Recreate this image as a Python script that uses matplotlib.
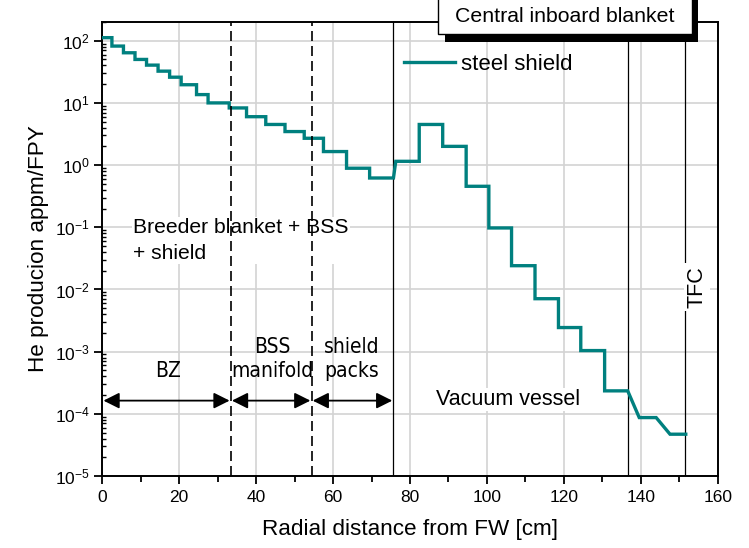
import matplotlib
matplotlib.use("Agg")
import matplotlib.pyplot as plt
from matplotlib import font_manager
from matplotlib.patches import Rectangle
from matplotlib.ticker import FixedLocator, NullFormatter, LogFormatterSciNotation

plt.rcParams['font.family'] = ['Liberation Sans', 'DejaVu Sans']
plt.rcParams['mathtext.fontset'] = 'custom'
plt.rcParams['mathtext.rm'] = 'Liberation Sans'
plt.rcParams['mathtext.it'] = 'Liberation Sans:italic'

# He production profile (polyline vertices)
x_pts = [0, 2.5, 2.5, 5.5, 5.5, 8.5, 8.5, 11.5, 11.5, 14.5, 14.5, 17.5, 17.5,
         20.5, 20.5, 24.5, 24.5, 27.5, 27.5, 33.0, 33.0, 37.5, 37.5, 42.5, 42.5,
         47.5, 47.5, 52.5, 52.5, 57.5, 57.5, 63.5, 63.5, 69.5, 69.5, 75.7,
         76.3, 82.4, 82.4, 88.5, 88.5, 94.6, 94.6, 100.5, 100.5, 106.4, 106.4,
         112.5, 112.5, 118.6, 118.6, 124.4, 124.4, 130.6, 130.6, 136.6,
         139.6, 144.0, 147.6, 151.7]
y_pts = [112, 112, 82, 82, 64, 64, 50, 50, 40.5, 40.5, 32.4, 32.4, 25.9,
         25.9, 19.6, 19.6, 13.6, 13.6, 10.0, 10.0, 8.3, 8.3, 6.0, 6.0, 4.5,
         4.5, 3.46, 3.46, 2.7, 2.7, 1.65, 1.65, 0.89, 0.89, 0.62, 0.62,
         1.15, 1.15, 4.5, 4.5, 2.0, 2.0, 0.456, 0.456, 0.0975, 0.0975, 0.0241,
         0.0241, 0.0071, 0.0071, 0.00244, 0.00244, 0.00104, 0.00104, 0.000234, 0.000234,
         8.7e-5, 8.7e-5, 4.7e-5, 4.7e-5]
series_label = "steel shield"

dashed_x = [33.4, 54.4]
solid_x = [75.7, 136.8, 151.5]
arrow_y = 1.63e-4
arrow_spans = [(0.3, 33.1), (33.7, 54.1), (54.7, 75.4)]

x_ticks = [0, 20, 40, 60, 80, 100, 120, 140, 160]
x_minor = [10, 30, 50, 70, 90, 110, 130, 150]
y_ticks = [1e-5, 1e-4, 1e-3, 1e-2, 1e-1, 1e0, 1e1, 1e2]
y_minor = [m * d for d in [1e-5, 1e-4, 1e-3, 1e-2, 1e-1, 1e0, 1e1] for m in range(2, 10)] + [200]

# pick a condensed sans font if one is installed
narrow_family, narrow_stretch, narrow_size = 'Liberation Sans', 'normal', 14
names = {f.name for f in font_manager.fontManager.ttflist}
if 'Liberation Sans Narrow' in names:
    narrow_family, narrow_stretch, narrow_size = 'Liberation Sans Narrow', 'normal', 17
else:
    for f in font_manager.fontManager.ttflist:
        st = str(f.stretch).lower()
        if f.name in ('Noto Sans', 'DejaVu Sans', 'Open Sans', 'Roboto', 'Inter', 'Lato') and \
                ('condensed' in st or st in ('75', '62.5', '87.5')) and f.style == 'normal' \
                and f.weight in (400, 'normal', 'regular'):
            narrow_family, narrow_stretch, narrow_size = f.name, f.stretch, 15
            break

fig = plt.figure(figsize=(7.49, 5.48), dpi=100)
ax = fig.add_axes([102.3 / 749, 72 / 548, 615.4 / 749, 454 / 548])

ax.set_yscale('log')
ax.set_xlim(0, 160)
ax.set_ylim(1e-5, 200)

ax.grid(True, which='major', color='#d3d3d3', linewidth=1.2, zorder=0)
ax.set_axisbelow(True)

line, = ax.plot(x_pts, y_pts, color='#00807f', linewidth=2.4, zorder=4,
                solid_joinstyle='miter', label=series_label)

for xv in dashed_x:
    ax.axvline(xv, color='black', linewidth=1.2, linestyle=(0, (6, 3)), zorder=5)
for xv in solid_x:
    ax.axvline(xv, color='black', linewidth=0.9, zorder=3)

for x0, x1 in arrow_spans:
    ax.annotate('', xy=(x1, arrow_y), xytext=(x0, arrow_y),
                arrowprops=dict(arrowstyle='<|-|>', color='black', lw=1.3,
                                mutation_scale=24, shrinkA=0, shrinkB=0),
                zorder=6)

nkw = dict(family=[narrow_family, 'Liberation Sans', 'DejaVu Sans'], stretch=narrow_stretch,
           fontsize=narrow_size, ha='center', va='center', zorder=2, linespacing=1.3)
wbox = dict(facecolor='white', edgecolor='none', pad=1.0)
ax.text(17.0, 4.8e-4, 'BZ', **nkw)
ax.text(44.3, 7.6e-4, 'BSS\nmanifold', **nkw)
ax.text(64.8, 7.6e-4, 'shield\npacks', **nkw)
ax.text(105.4, 1.7e-4, 'Vacuum vessel', fontsize=15.5, ha='center', va='center',
        bbox=wbox, zorder=2)
ax.text(8.0, 0.061, 'Breeder blanket + BSS\n+ shield', fontsize=15.2, ha='left', va='center',
        linespacing=1.45, bbox=wbox, zorder=2)
ax.text(154.6, 0.011, 'TFC', fontsize=15.5, rotation=90, ha='center', va='center',
        bbox=dict(facecolor='white', edgecolor='none', pad=2.0), zorder=4)

leg = ax.legend(handles=[line], loc='center left', bbox_to_anchor=(0.490, 0.907),
                frameon=False, fontsize=16, handlelength=2.3, handletextpad=0.28,
                borderpad=0, borderaxespad=0)

ax.xaxis.set_major_locator(FixedLocator(x_ticks))
ax.xaxis.set_minor_locator(FixedLocator(x_minor))
ax.yaxis.set_major_locator(FixedLocator(y_ticks))
ax.yaxis.set_major_formatter(LogFormatterSciNotation())
ax.yaxis.set_minor_locator(FixedLocator(y_minor))
ax.yaxis.set_minor_formatter(NullFormatter())

ax.tick_params(axis='x', which='major', direction='out', length=6, width=1.3, labelsize=12.5, pad=4)
ax.tick_params(axis='x', which='minor', direction='out', length=4, width=1.3)
ax.tick_params(axis='y', which='major', direction='out', length=6, width=1.3, labelsize=12.5, pad=3)
ax.tick_params(axis='y', which='minor', direction='in', length=3, width=1.0)
for s in ax.spines.values():
    s.set_linewidth(1.4)

ax.set_xlabel('Radial distance from FW [cm]', fontsize=16.2, labelpad=10)
ax.set_ylabel('He producion appm/FPY', fontsize=16.2, labelpad=4)

# Title box with shadow
W, H = 749, 548
shadow = Rectangle((445 / W, (H - 41.7) / H), 253.3 / W, 60 / H, transform=fig.transFigure,
                   facecolor='black', edgecolor='none', zorder=10, clip_on=False)
box = Rectangle((438.3 / W, (H - 34.3) / H), 253.4 / W, 60 / H, transform=fig.transFigure,
                facecolor='white', edgecolor='black', linewidth=1.0, zorder=11, clip_on=False)
fig.add_artist(shadow)
fig.add_artist(box)
fig.text(565 / W, (H - 17) / H, 'Central inboard blanket', fontsize=15.3,
         ha='center', va='center', zorder=12)

fig.savefig('out.png', dpi=100)
